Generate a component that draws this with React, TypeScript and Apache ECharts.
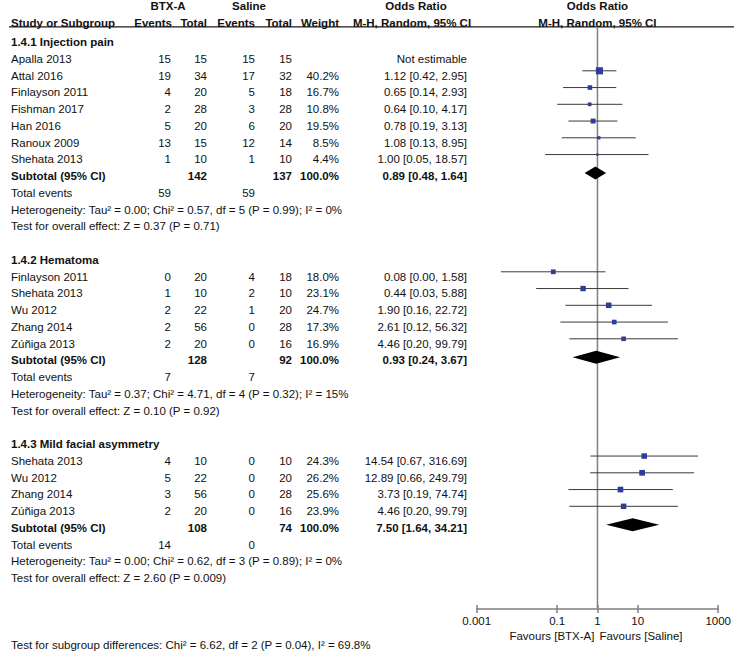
import React, { useEffect, useRef } from "react";
import * as echarts from "echarts";

// ---------- data ----------
const groupTitles = ["1.4.1 Injection pain", "1.4.2 Hematoma", "1.4.3 Mild facial asymmetry"];

const studyGroup = [0, 0, 0, 0, 0, 0, 0, 1, 1, 1, 1, 1, 2, 2, 2, 2];
const studyNames = [
  "Apalla 2013", "Attal 2016", "Finlayson 2011", "Fishman 2017", "Han 2016", "Ranoux 2009", "Shehata 2013",
  "Finlayson 2011", "Shehata 2013", "Wu 2012", "Zhang 2014", "Zúñiga 2013",
  "Shehata 2013", "Wu 2012", "Zhang 2014", "Zúñiga 2013",
];
const btxEvents = [15, 19, 4, 2, 5, 13, 1, 0, 1, 2, 2, 2, 4, 5, 3, 2];
const btxTotal = [15, 34, 20, 28, 20, 15, 10, 20, 10, 22, 56, 20, 10, 22, 56, 20];
const salEvents = [15, 17, 5, 3, 6, 12, 1, 4, 2, 1, 0, 0, 0, 0, 0, 0];
const salTotal = [15, 32, 18, 28, 20, 14, 10, 18, 10, 20, 28, 16, 10, 20, 28, 16];
const weights: (number | null)[] = [null, 40.2, 16.7, 10.8, 19.5, 8.5, 4.4, 18.0, 23.1, 24.7, 17.3, 16.9, 24.3, 26.2, 25.6, 23.9];
const oddsRatio: (number | null)[] = [null, 1.12, 0.65, 0.64, 0.78, 1.08, 1.0, 0.08, 0.44, 1.9, 2.61, 4.46, 14.54, 12.89, 3.73, 4.46];
const ciLower: (number | null)[] = [null, 0.42, 0.14, 0.1, 0.19, 0.13, 0.05, 0.004, 0.03, 0.16, 0.12, 0.2, 0.67, 0.66, 0.19, 0.2];
const ciUpper: (number | null)[] = [null, 2.95, 2.93, 4.17, 3.13, 8.95, 18.57, 1.58, 5.88, 22.72, 56.32, 99.79, 316.69, 249.79, 74.74, 99.79];

const subTotalBtx = [142, 128, 108];
const subTotalSal = [137, 92, 74];
const subWeight = [100.0, 100.0, 100.0];
const subOR = [0.89, 0.93, 7.5];
const subLower = [0.48, 0.24, 1.64];
const subUpper = [1.64, 3.67, 34.21];
const totalEventsBtx = [59, 7, 14];
const totalEventsSal = [59, 7, 0];
const heterogeneity = [
  "Heterogeneity: Tau² = 0.00; Chi² = 0.57, df = 5 (P = 0.99); I² = 0%",
  "Heterogeneity: Tau² = 0.37; Chi² = 4.71, df = 4 (P = 0.32); I² = 15%",
  "Heterogeneity: Tau² = 0.00; Chi² = 0.62, df = 3 (P = 0.89); I² = 0%",
];
const overallEffect = [
  "Test for overall effect: Z = 0.37 (P = 0.71)",
  "Test for overall effect: Z = 0.10 (P = 0.92)",
  "Test for overall effect: Z = 2.60 (P = 0.009)",
];
const subgroupTest = "Test for subgroup differences: Chi² = 6.62, df = 2 (P = 0.04), I² = 69.8%";
const axisTicks = [0.001, 0.1, 1, 10, 1000];
const favoursLeft = "Favours [BTX-A]";
const favoursRight = "Favours [Saline]";

// ---------- layout ----------
const FONT = '"Liberation Sans", Arial, Helvetica, sans-serif';
const FS = 11.5;
const TXT = "#111111";
const SQUARE = "#2F3D96";
const Y_MIN = -2;
const Y_MAX = 33.85;
const COL = { name: 11, btxEv: 171, btxTot: 207, salEv: 255, salTot: 292, weight: 339, orTxt: 467 };

type TextItem = { row: number; x?: number; axisX?: number; align: string; text: string; bold?: boolean };

const fmtCI = (o: number, l: number, h: number) => `${o.toFixed(2)} [${l.toFixed(2)}, ${h.toFixed(2)}]`;

function buildLayout() {
  const texts: TextItem[] = [];
  const studyRows: number[] = [];
  const subRows: number[] = [];
  // headers
  texts.push({ row: -2.15, x: 168, align: "center", text: "BTX-A", bold: true });
  texts.push({ row: -2.15, x: 249, align: "center", text: "Saline", bold: true });
  texts.push({ row: -2.15, x: 416, align: "center", text: "Odds Ratio", bold: true });
  texts.push({ row: -2.15, axisX: 0, align: "center", text: "Odds Ratio", bold: true });
  texts.push({ row: -1.13, x: COL.name, align: "left", text: "Study or Subgroup", bold: true });
  texts.push({ row: -1.13, x: COL.btxEv + 1, align: "right", text: "Events", bold: true });
  texts.push({ row: -1.13, x: COL.btxTot, align: "right", text: "Total", bold: true });
  texts.push({ row: -1.13, x: COL.salEv, align: "right", text: "Events", bold: true });
  texts.push({ row: -1.13, x: COL.salTot, align: "right", text: "Total", bold: true });
  texts.push({ row: -1.13, x: COL.weight, align: "right", text: "Weight", bold: true });
  texts.push({ row: -1.13, x: 412, align: "center", text: "M-H, Random, 95% CI", bold: true });
  texts.push({ row: -1.13, axisX: 0, align: "center", text: "M-H, Random, 95% CI", bold: true });

  let row = 0;
  for (let g = 0; g < groupTitles.length; g++) {
    texts.push({ row, x: COL.name, align: "left", text: groupTitles[g], bold: true });
    row++;
    for (let i = 0; i < studyNames.length; i++) {
      if (studyGroup[i] !== g) continue;
      studyRows[i] = row;
      texts.push({ row, x: COL.name, align: "left", text: studyNames[i] });
      texts.push({ row, x: COL.btxEv, align: "right", text: String(btxEvents[i]) });
      texts.push({ row, x: COL.btxTot, align: "right", text: String(btxTotal[i]) });
      texts.push({ row, x: COL.salEv, align: "right", text: String(salEvents[i]) });
      texts.push({ row, x: COL.salTot, align: "right", text: String(salTotal[i]) });
      const w = weights[i];
      if (w != null) texts.push({ row, x: COL.weight, align: "right", text: w.toFixed(1) + "%" });
      const o = oddsRatio[i];
      texts.push({
        row, x: COL.orTxt, align: "right",
        text: o == null ? "Not estimable" : fmtCI(o, ciLower[i] as number, ciUpper[i] as number),
      });
      row++;
    }
    subRows[g] = row;
    texts.push({ row, x: COL.name, align: "left", text: "Subtotal (95% CI)", bold: true });
    texts.push({ row, x: COL.btxTot, align: "right", text: String(subTotalBtx[g]), bold: true });
    texts.push({ row, x: COL.salTot, align: "right", text: String(subTotalSal[g]), bold: true });
    texts.push({ row, x: COL.weight, align: "right", text: subWeight[g].toFixed(1) + "%", bold: true });
    texts.push({ row, x: COL.orTxt, align: "right", text: fmtCI(subOR[g], subLower[g], subUpper[g]), bold: true });
    row++;
    texts.push({ row, x: COL.name, align: "left", text: "Total events" });
    texts.push({ row, x: COL.btxEv, align: "right", text: String(totalEventsBtx[g]) });
    texts.push({ row, x: COL.salEv, align: "right", text: String(totalEventsSal[g]) });
    row++;
    texts.push({ row, x: COL.name, align: "left", text: heterogeneity[g] });
    row++;
    texts.push({ row, x: COL.name, align: "left", text: overallEffect[g] });
    row++;
    row++; // blank
  }
  texts.push({ row: row + 2, x: COL.name, align: "left", text: subgroupTest });
  texts.push({ row: 35.45, axisX: 0, align: "right", text: favoursLeft });
  texts.push({ row: 35.45, axisX: 0, align: "left", text: favoursRight });
  return { texts, studyRows, subRows };
}

export default function App() {
  const ref = useRef<HTMLDivElement>(null);
  useEffect(() => {
    document.body.style.margin = "0";
    const chart = echarts.init(ref.current!, null, { renderer: "svg" });
    const { texts, studyRows, subRows } = buildLayout();

    const ciData: number[][] = [];
    for (let i = 0; i < studyNames.length; i++) {
      const o = oddsRatio[i];
      if (o == null) continue;
      ciData.push([Math.log10(o), Math.log10(ciLower[i] as number), Math.log10(ciUpper[i] as number), studyRows[i], weights[i] as number]);
    }
    const diaData = subOR.map((o, g) => [Math.log10(o), Math.log10(subLower[g]), Math.log10(subUpper[g]), subRows[g]]);
    const tickVals = axisTicks.map((t) => Math.log10(t));

    const option: any = {
      animation: false,
      grid: { left: 476.7, width: 246.6, top: 8.5, height: 600.5, containLabel: false },
      xAxis: [
        {
          type: "value", min: -3, max: 3, position: "bottom",
          splitLine: { show: false },
          axisLine: { show: true, onZero: false, lineStyle: { color: "#808080", width: 1.5 } },
          axisTick: { show: true, customValues: tickVals, length: 4, lineStyle: { color: "#808080", width: 1.5 } },
          axisLabel: {
            show: true, customValues: tickVals, margin: 6, color: TXT, fontSize: FS, fontFamily: FONT,
            formatter: (v: number) => String(+Math.pow(10, v).toPrecision(6)),
          },
        },
        {
          type: "value", min: -3, max: 3, position: "bottom",
          splitLine: { show: false },
          axisLine: { show: false, onZero: false },
          axisTick: { show: true, inside: true, customValues: tickVals, length: 4, lineStyle: { color: "#808080", width: 1.5 } },
          axisLabel: { show: false },
        },
      ],
      yAxis: { type: "value", min: Y_MIN, max: Y_MAX, inverse: true, show: false, splitLine: { show: false } },
      series: [
        {
          type: "custom", name: "frame", clip: false, silent: true,
          data: [[0, -0.9]],
          encode: { x: 0, y: 1 },
          renderItem: (params: any, api: any) => {
            const top = api.coord([api.value(0), api.value(1)]);
            const bottom = api.coord([api.value(0), Y_MAX]);
            return {
              type: "group",
              children: [
                { type: "line", shape: { x1: 9, y1: top[1], x2: 734, y2: top[1] }, style: { stroke: "#1a1a1a", lineWidth: 1.3 } },
                { type: "line", shape: { x1: top[0], y1: top[1], x2: bottom[0], y2: bottom[1] }, style: { stroke: "#808080", lineWidth: 1.5 } },
              ],
            };
          },
        },
        {
          type: "custom", name: "studies", clip: false, silent: true,
          data: ciData,
          encode: { x: 0, y: 3 },
          renderItem: (params: any, api: any) => {
            const r = api.value(3);
            const c = api.coord([api.value(0), r]);
            const l = api.coord([api.value(1), r]);
            const h = api.coord([api.value(2), r]);
            const y = c[1] - 4.7;
            const s = 1.12 * Math.sqrt(api.value(4));
            return {
              type: "group",
              children: [
                { type: "line", shape: { x1: l[0], y1: y, x2: h[0], y2: y }, style: { stroke: "#3a3a3a", lineWidth: 1 } },
                { type: "rect", shape: { x: c[0] - s / 2, y: y - s / 2, width: s, height: s }, style: { fill: SQUARE } },
              ],
            };
          },
        },
        {
          type: "custom", name: "subtotals", clip: false, silent: true,
          data: diaData,
          encode: { x: 0, y: 3 },
          renderItem: (params: any, api: any) => {
            const r = api.value(3);
            const c = api.coord([api.value(0), r]);
            const l = api.coord([api.value(1), r]);
            const h = api.coord([api.value(2), r]);
            const y = c[1] - 3;
            const hh = 6.5;
            return {
              type: "polygon",
              shape: { points: [[l[0], y], [c[0], y - hh], [h[0], y], [c[0], y + hh]] },
              style: { fill: "#000000" },
            };
          },
        },
        {
          type: "custom", name: "table", clip: false, silent: true,
          data: texts.map((t) => [t.axisX != null ? t.axisX : 0, t.row]),
          encode: { x: 0, y: 1 },
          renderItem: (params: any, api: any) => {
            const t = texts[params.dataIndex];
            const p = api.coord([api.value(0), api.value(1)]);
            let x = t.axisX != null ? p[0] : (t.x as number);
            if (t.axisX != null && t.align === "right") x -= 3;
            if (t.axisX != null && t.align === "left") x += 2;
            return {
              type: "text",
              x, y: p[1],
              style: {
                text: t.text, fill: TXT, fontSize: FS, fontFamily: FONT,
                fontWeight: t.bold ? "bold" : "normal",
                align: t.align, verticalAlign: "middle",
              },
            };
          },
        },
      ],
    };
    chart.setOption(option);
    return () => chart.dispose();
  }, []);
  return <div ref={ref} style={{ width: 734, height: 654 }} />;
}
